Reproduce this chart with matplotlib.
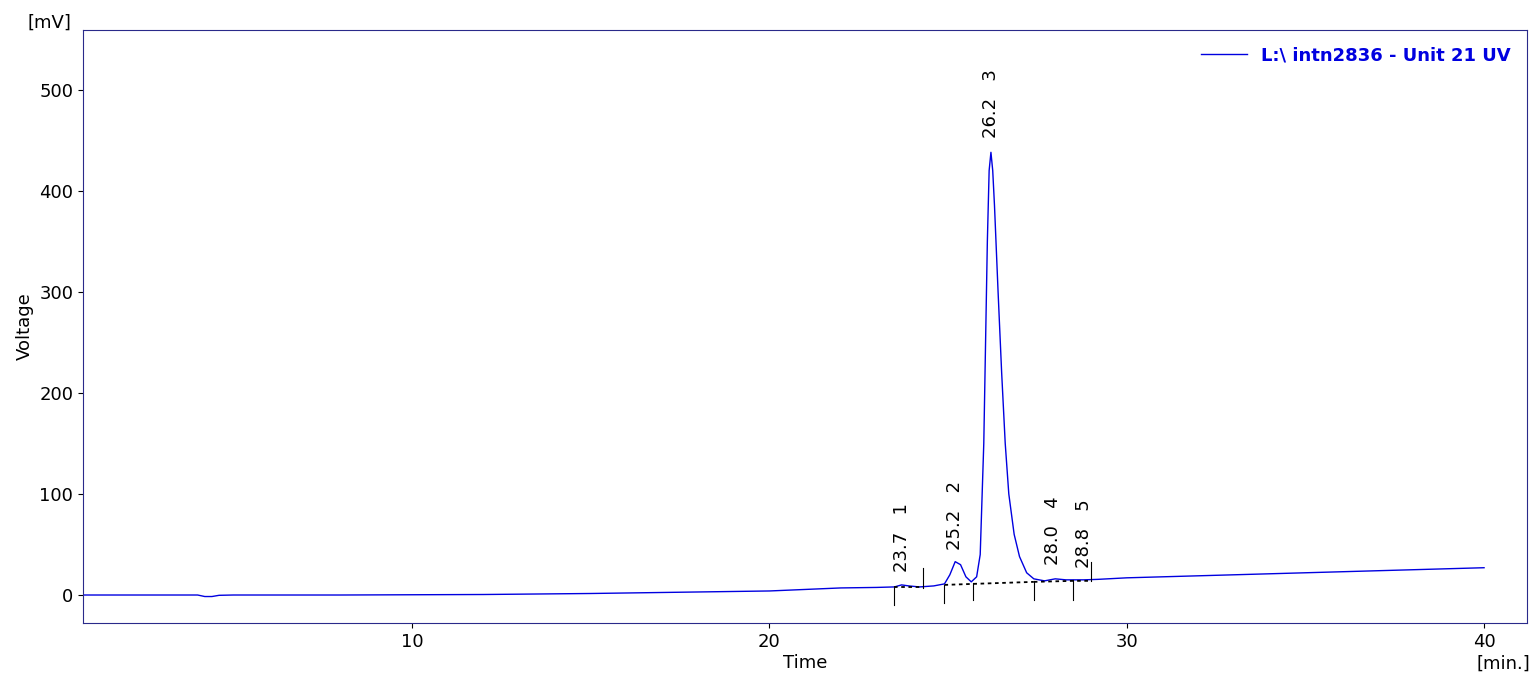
import matplotlib.pyplot as plt

# trace sampled from the chromatogram (minutes, mV)
t = [0.8, 2, 3, 4.0, 4.2, 4.4, 4.6, 5, 8, 12, 15, 18, 20, 21, 22, 23, 23.5, 23.7, 23.9, 24.2,
     24.6, 24.9, 25.05, 25.2, 25.35, 25.5, 25.65, 25.8, 25.9, 26.0, 26.05, 26.1, 26.15, 26.2,
     26.25, 26.3, 26.4, 26.5, 26.6, 26.7, 26.85, 27.0, 27.2, 27.4, 27.7, 28.0, 28.3, 28.6, 28.8,
     29.2, 30, 32, 35, 38, 40]
mv = [0, 0, 0, 0, -1.5, -1.5, -0.3, 0, 0, 0.5, 1.5, 3, 4, 5.5, 7, 7.5, 8, 10, 9, 8,
      9, 11, 20, 33, 30, 18, 13, 18, 40, 150, 250, 350, 420, 438,
      420, 385, 300, 220, 150, 100, 60, 38, 22, 16, 14, 16, 15, 15, 15,
      15.5, 17, 19, 22, 25, 27]

peak_rt = [23.7, 25.2, 26.2, 28.0, 28.8]
peak_no = ['1', '2', '3', '4', '5']
label_y = [23, 45, 452, 30, 27]
label_x = [23.7, 25.2, 26.2, 27.95, 28.8]

# peak boundary markers (time, y from, y to)
marks = [(23.5, -10, 8), (24.3, 7, 27), (24.9, -8, 10), (25.7, -5, 12),
         (27.4, -5, 14), (28.5, -5, 15), (29.0, 14, 33)]
base_t = [[23.5, 24.3], [24.9, 25.7, 27.4], [27.4, 28.5, 29.0]]
base_v = [[8, 8], [10, 11, 13], [13, 14, 14]]

fig = plt.figure(figsize=(15.3, 6.82), dpi=100)
ax = fig.add_axes([0.0542, 0.0865, 0.9438, 0.8695])
ax.plot(t, mv, color='#0000e0', lw=1, label=r'L:\ intn2836 - Unit 21 UV')
for bt, bv in zip(base_t, base_v):
    ax.plot(bt, bv, 'k--', lw=1.3, dashes=(2, 2))
for x, y0, y1 in marks:
    ax.plot([x, x], [y0, y1], color='k', lw=0.8)
for x, y, rt, n in zip(label_x, label_y, peak_rt, peak_no):
    ax.text(x, y, f'{rt:.1f}   {n}', rotation=90, ha='center', va='bottom', fontsize=13)

ax.set_xlim(0.79, 41.2)
ax.set_ylim(-27.7, 559)
ax.set_xticks([10, 20, 30, 40])
ax.set_yticks([0, 100, 200, 300, 400, 500])
ax.tick_params(labelsize=13, direction='out', colors='k')
for s in ax.spines.values():
    s.set_color('#2a2a8a')
ax.set_xlabel('Time', fontsize=13, labelpad=2)
ax.set_ylabel('Voltage', fontsize=13)
fig.text(0.018, 0.96, '[mV]', fontsize=13)
fig.text(0.965, 0.02, '[min.]', fontsize=13)
leg = ax.legend(loc='upper right', frameon=False, fontsize=13, handlelength=2.5)
for txt in leg.get_texts():
    txt.set_color('#0000e0')
    txt.set_fontweight('bold')
fig.savefig('out.png')
